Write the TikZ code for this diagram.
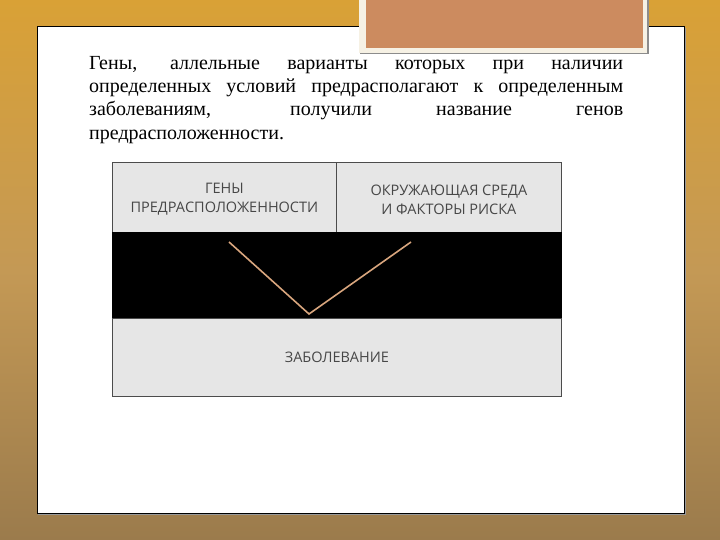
\documentclass[tikz,border=0pt]{standalone}
\usepackage{fontspec}
\setmainfont{Liberation Serif}
\newfontfamily\tabfont{Open Sans}
\usetikzlibrary{calc}
\definecolor{bgtop}{HTML}{D9A136}
\definecolor{bgmid}{HTML}{C49955}
\definecolor{bgbot}{HTML}{9B7B4C}
\definecolor{cellgray}{HTML}{E6E6E6}
\definecolor{cream}{HTML}{F6F1E4}
\definecolor{clay}{HTML}{CC8B5F}
\definecolor{linetan}{HTML}{D9A67E}
\tikzset{
  cell/.style={draw=black!70, line width=0.8pt, fill=cellgray, inner sep=0pt},
  celltext/.style={font=\tabfont\fontsize{14.5}{19}\selectfont, align=center, text=black!72},
  link/.style={draw=linetan, line width=1.6pt},
}
\begin{document}
\begin{tikzpicture}[x=1pt,y=-1pt]
\useasboundingbox (0,0) rectangle (720,540);
% background
\shade[top color=bgtop, bottom color=bgbot, middle color=bgmid] (0,0) rectangle (720,540);
% panel
\fill[black!40] (38,28) rectangle (686,515);
\node[draw=black, line width=0.9pt, fill=white, minimum width=647pt, minimum height=487pt, anchor=north west, inner sep=0pt] (panel) at (37,26) {};
% decorative brown box
\fill[black!45] (360,-2) rectangle (649,54);
\node[fill=cream, minimum width=288pt, minimum height=55pt, anchor=north west, inner sep=0pt] (frame) at (359,-2) {};
\node[fill=clay, minimum width=277pt, minimum height=50pt, anchor=north west, inner sep=0pt] (clay) at (366,-2) {};
% paragraph
\node[anchor=north west, inner sep=0pt, align=left, font=\fontsize{20}{23.3}\selectfont] (para) at (89,56) {%
\makebox[534pt][s]{Гены, аллельные варианты которых при наличии}\\
\makebox[534pt][s]{определенных условий предрасполагают к определенным}\\
\makebox[534pt][s]{заболеваниям, получили название генов}\\
предрасположенности.};
% table
\node[cell, minimum width=224pt, minimum height=70pt, anchor=north west] (genes) at (112,162) {};
\node[cell, minimum width=225pt, minimum height=70pt, anchor=north west] (env) at (336,162) {};
\node[draw=black, fill=black, minimum width=449pt, minimum height=86pt, anchor=north west, inner sep=0pt] (band) at (112,232) {};
\node[cell, minimum width=449pt, minimum height=78pt, anchor=north west] (disease) at (112,318) {};
\node[celltext] (genest) at ([yshift=-2pt]genes.center) {ГЕНЫ\\ПРЕДРАСПОЛОЖЕННОСТИ};
\node[celltext] (envt) at ([yshift=-2pt]env.center) {ОКРУЖАЮЩАЯ СРЕДА\\И ФАКТОРЫ РИСКА};
\node[celltext] (diseaset) at (disease.center) {ЗАБОЛЕВАНИЕ};
\coordinate (a) at (229,242);
\coordinate (v) at (309,314);
\coordinate (b) at (411,242);
\draw[link] (a) -- (v) -- (b);
\end{tikzpicture}
\end{document}
